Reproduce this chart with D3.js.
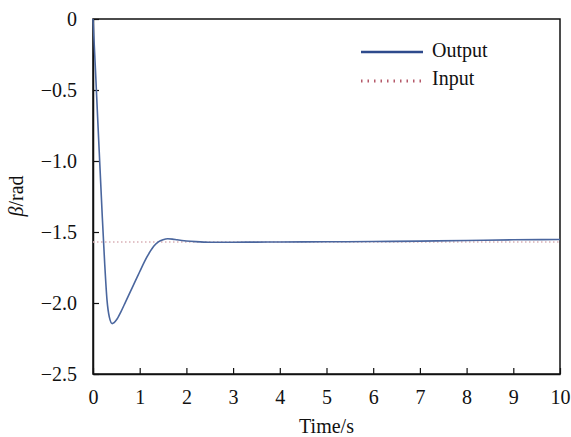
<!DOCTYPE html>
<html lang="en">
<head>
<meta charset="utf-8">
<title>Output vs Input</title>
<script src="https://d3js.org/d3.v7.min.js"></script>
<style>
  body { margin: 0; background: #fff; }
  text { font-family: "Liberation Serif", "Times New Roman", serif; }
</style>
</head>
<body>
<script>
// time (s) and angle values
const timeVals = [0, 0.05, 0.1, 0.15, 0.2, 0.25, 0.3, 0.35, 0.41, 0.5, 0.6, 0.7, 0.8, 0.9, 1.0,
                  1.1, 1.2, 1.3, 1.4, 1.5, 1.6, 1.7, 1.8, 2.0, 2.2, 2.5, 3, 3.5, 4, 5, 6, 7, 8, 9, 10];
const outputVals = [0, -0.34, -0.7, -1.05, -1.4, -1.72, -1.98, -2.1, -2.145, -2.12, -2.06, -1.99, -1.92, -1.85, -1.78,
                    -1.71, -1.65, -1.6, -1.57, -1.555, -1.548, -1.55, -1.555, -1.563, -1.568, -1.572, -1.572, -1.571, -1.57, -1.569, -1.567, -1.564, -1.56, -1.555, -1.553];
const inputTimes = [0, 10];
const inputVals = [-1.571, -1.571];
const xTicks = [0, 1, 2, 3, 4, 5, 6, 7, 8, 9, 10];
const yTicks = [0, -0.5, -1.0, -1.5, -2.0, -2.5];

const W = 571, H = 437;
const m = {left: 93, right: 11, top: 19, bottom: 63};
const fs = "20px";

const svg = d3.select("body").append("svg")
    .attr("width", W)
    .attr("height", H);

const x = d3.scaleLinear().domain([0, 10]).range([m.left, W - m.right]);
const y = d3.scaleLinear().domain([-2.5, 0]).range([H - m.bottom, m.top]);

const fmtY = d => d === 0 ? "0" : d3.format(".1f")(d);

// frame
svg.append("rect")
    .attr("x", x(0)).attr("y", y(0))
    .attr("width", x(10) - x(0)).attr("height", y(-2.5) - y(0))
    .attr("fill", "none").attr("stroke", "#111").attr("stroke-width", 1.5);

const xAxis = svg.append("g")
    .attr("transform", "translate(0," + y(-2.5) + ")")
    .call(d3.axisBottom(x).tickValues(xTicks).tickSizeInner(-6).tickSizeOuter(0).tickPadding(16));
const yAxis = svg.append("g")
    .attr("transform", "translate(" + x(0) + ",0)")
    .call(d3.axisLeft(y).tickValues(yTicks).tickFormat(fmtY).tickSizeInner(-6).tickSizeOuter(0).tickPadding(16));

[xAxis, yAxis].forEach(g => {
  g.select(".domain").attr("stroke", "#111").attr("stroke-width", 1.5);
  g.selectAll(".tick line").attr("stroke", "#111").attr("stroke-width", 1.2);
  g.selectAll(".tick text")
    .attr("fill", "#111")
    .style("font-family", "'Liberation Serif', serif")
    .style("font-size", fs);
});

const line = d3.line()
    .x(d => x(d[0]))
    .y(d => y(d[1]))
    .curve(d3.curveMonotoneX);

// input (dotted, faint)
svg.append("path")
    .datum(inputTimes.map((t, i) => [t, inputVals[i]]))
    .attr("d", line)
    .attr("fill", "none")
    .attr("stroke", "#d9b0b6")
    .attr("stroke-width", 1.5)
    .attr("stroke-dasharray", "1.5,2.5");

// output
svg.append("path")
    .datum(timeVals.map((t, i) => [t, outputVals[i]]))
    .attr("d", line)
    .attr("fill", "none")
    .attr("stroke", "#4a669e")
    .attr("stroke-width", 1.6);

// legend
const leg = svg.append("g");
leg.append("line")
    .attr("x1", 361).attr("x2", 423).attr("y1", 52).attr("y2", 52)
    .attr("stroke", "#2e4a8c").attr("stroke-width", 2.5);
leg.append("text")
    .attr("x", 432).attr("y", 57)
    .style("font-size", fs).attr("fill", "#111")
    .text("Output");
leg.append("line")
    .attr("x1", 361).attr("x2", 423).attr("y1", 81).attr("y2", 81)
    .attr("stroke", "#b55a6a").attr("stroke-width", 3)
    .attr("stroke-dasharray", "1.5,5");
leg.append("text")
    .attr("x", 432).attr("y", 85)
    .style("font-size", fs).attr("fill", "#111")
    .text("Input");

// axis titles
svg.append("text")
    .attr("x", x(5)).attr("y", 433)
    .attr("text-anchor", "middle")
    .style("font-size", fs).attr("fill", "#111")
    .text("Time/s");

const yl = svg.append("text")
    .attr("transform", "translate(23,196) rotate(-90)")
    .attr("text-anchor", "middle")
    .style("font-size", fs).attr("fill", "#111");
yl.append("tspan").style("font-style", "italic").text("β");
yl.append("tspan").text("/rad");
</script>
</body>
</html>
